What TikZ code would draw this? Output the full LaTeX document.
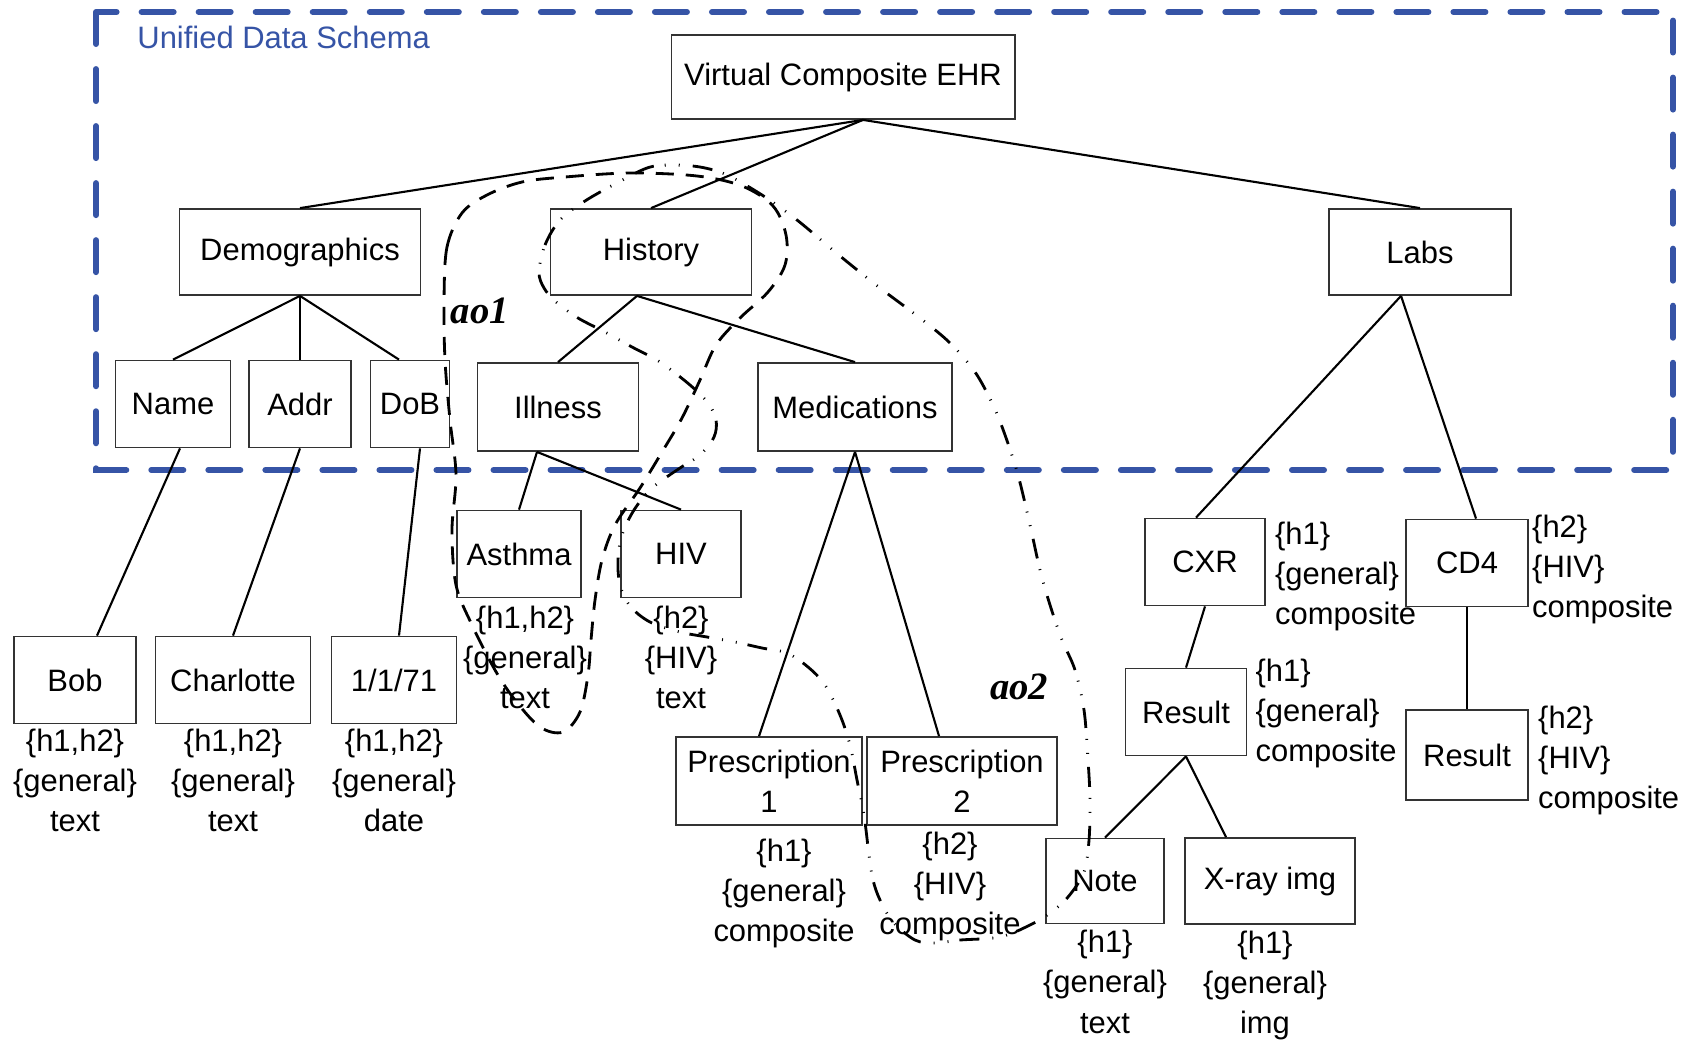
\documentclass[tikz,border=0pt]{standalone}
\usepackage{fontspec}
\setmainfont{Liberation Sans}
\newfontfamily\aofont{Liberation Serif}
\usetikzlibrary{positioning,calc}
\definecolor{schemablue}{RGB}{54,84,166}
\begin{document}
\begin{tikzpicture}[
  x=0.01cm, y=-0.01cm,
  every node/.style={font=\fontsize{8.8}{11.4}\selectfont, align=center},
  box/.style={draw=black!80, line width=0.5pt, minimum height=0.87cm, inner sep=2pt},
  ann/.style={inner sep=1pt},
  link/.style={line width=0.6pt},
  schema/.style={draw=schemablue, line width=1.7pt, line cap=round, dash pattern=on 0.32cm off 0.25cm},
  aoone/.style={line width=0.8pt, dash pattern=on 0.18cm off 0.12cm},
  aotwo/.style={line width=0.8pt, dash pattern=on 0.2cm off 0.11cm on 0.01cm off 0.13cm on 0.01cm off 0.13cm},
  aolabel/.style={font=\aofont\bfseries\itshape\fontsize{11}{13}\selectfont}
]
\useasboundingbox (0,0) rectangle (1692,1039);
\draw[schema] (96,12) rectangle (1673,470);
\node (schemalabel) [anchor=base west, text=schemablue] at (125,48) {Unified Data Schema};

\node (vc) [box, minimum width=3.43cm, minimum height=0.84cm] at (843,77) {Virtual Composite EHR};
\node (demo) [box, minimum width=2.41cm, minimum height=0.86cm] at (300,252) {Demographics};
\node (hist) [box, minimum width=2.01cm, minimum height=0.86cm] at (651,252) {History};
\node (labs) [box, minimum width=1.82cm, minimum height=0.86cm] at (1420,252) {Labs};
\node (name) [box, minimum width=1.15cm] at (173,404) {Name};
\node (addr) [box, minimum width=1.02cm] at (300,404) {Addr};
\node (dob) [box, minimum width=0.79cm] at (410,404) {DoB};
\node (ill) [box, minimum width=1.61cm, minimum height=0.88cm] at (558,407) {Illness};
\node (med) [box, minimum width=1.94cm, minimum height=0.88cm] at (855,407) {Medications};
\node (asth) [box, minimum width=1.24cm] at (519,554) {Asthma};
\node (hiv) [box, minimum width=1.20cm] at (681,554) {HIV};
\node (bob) [box, minimum width=1.22cm] at (75,680) {Bob};
\node (charl) [box, minimum width=1.55cm] at (233,680) {Charlotte};
\node (date) [box, minimum width=1.25cm] at (394,680) {1/1/71};
\node (rxa) [box, minimum width=1.86cm, minimum height=0.88cm] at (769,781) {Prescription\\1};
\node (rxb) [box, minimum width=1.90cm, minimum height=0.88cm] at (962,781) {Prescription\\2};
\node (cxr) [box, minimum width=1.20cm] at (1205,562) {CXR};
\node (cd4) [box, minimum width=1.22cm] at (1467,563) {CD4};
\node (resa) [box, minimum width=1.21cm] at (1186,712) {Result};
\node (resb) [box, minimum width=1.22cm, minimum height=0.90cm] at (1467,755) {Result};
\node (note) [box, minimum width=1.18cm, minimum height=0.85cm] at (1105,881) {Note};
\node (xray) [box, minimum width=1.70cm, minimum height=0.86cm] at (1270,881) {X-ray img};

\node (bobann) [ann, below=0pt of bob] {\{h1,h2\}\\\{general\}\\text};
\node (charlann) [ann, below=0pt of charl] {\{h1,h2\}\\\{general\}\\text};
\node (dateann) [ann, below=0pt of date] {\{h1,h2\}\\\{general\}\\date};
\node (asthann) [ann, below=1pt of asth, xshift=0.06cm] {\{h1,h2\}\\\{general\}\\text};
\node (hivann) [ann, below=1pt of hiv] {\{h2\}\\\{HIV\}\\text};
\node (rxaann) [ann, below=2.5pt of rxa, xshift=0.15cm] {\{h1\}\\\{general\}\\composite};
\node (rxbann) [ann, below=0.5pt of rxb, xshift=-0.12cm] {\{h2\}\\\{HIV\}\\composite};
\node (noteann) [ann, below=0.5pt of note] {\{h1\}\\\{general\}\\text};
\node (xrayann) [ann, below=0.5pt of xray, xshift=-0.05cm] {\{h1\}\\\{general\}\\img};
\node (cxrann) [ann, anchor=north west, align=left] at ($(cxr.north east)+(5,0)$) {\{h1\}\\\{general\}\\composite};
\node (cd4ann) [ann, anchor=north west, align=left] at ($(cd4.north east)+(-1,-8)$) {\{h2\}\\\{HIV\}\\composite};
\node (resaann) [ann, anchor=north west, align=left] at ($(resa.north east)+(4,-13)$) {\{h1\}\\\{general\}\\composite};
\node (resbann) [ann, anchor=north west, align=left] at ($(resb.north east)+(5,-7)$) {\{h2\}\\\{HIV\}\\composite};

\draw[link] ($(vc.south)+(20,0)$) -- (demo.north);
\draw[link] ($(vc.south)+(20,0)$) -- (hist.north);
\draw[link] ($(vc.south)+(20,0)$) -- (labs.north);
\draw[link] (demo.south) -- (name.north);
\draw[link] (demo.south) -- (addr.north);
\draw[link] (demo.south) -- ($(dob.north)+(-11,0)$);
\draw[link] ($(hist.south)+(-14,0)$) -- (ill.north);
\draw[link] ($(hist.south)+(-14,0)$) -- (med.north);
\draw[link] ($(labs.south)+(-19,0)$) -- ($(cxr.north)+(-9,0)$);
\draw[link] ($(labs.south)+(-19,0)$) -- ($(cd4.north)+(9,0)$);
\draw[link] ($(name.south)+(7,0)$) -- ($(bob.north)+(22,0)$);
\draw[link] (addr.south) -- (charl.north);
\draw[link] ($(dob.south)+(10,0)$) -- ($(date.north)+(5,0)$);
\draw[link] ($(ill.south)+(-21,0)$) -- (asth.north);
\draw[link] ($(ill.south)+(-21,0)$) -- (hiv.north);
\draw[link] (med.south) -- ($(rxa.north)+(-10,0)$);
\draw[link] (med.south) -- ($(rxb.north)+(-23,0)$);
\draw[link] (cxr.south) -- (resa.north);
\draw[link] (resa.south) -- (note.north);
\draw[link] (resa.south) -- ($(xray.north)+(-44,0)$);
\draw[link] (cd4.south) -- (resb.north);

\draw[aoone] plot[smooth cycle, tension=0.55] coordinates {(444,300) (447,247) (462,213) (487,195) (522,182) (565,177) (630,173) (697,176) (742,186) (773,206) (786,235) (785,265) (768,292) (740,318) (716,345) (700,380) (682,418) (662,452) (640,488) (615,525) (602,560) (595,600) (591,640) (588,675) (580,712) (563,732) (540,727) (515,700) (495,670) (472,625) (456,585) (452,530) (456,475) (450,420) (445,360)};
\draw[aotwo] plot[smooth cycle, tension=0.55] coordinates {(539,272) (545,245) (560,220) (585,201) (615,184) (647,168) (670,165) (700,167) (727,175) (762,195) (797,220) (840,256) (880,288) (920,318) (950,343) (975,372) (993,405) (1005,435) (1018,475) (1030,525) (1040,570) (1050,605) (1062,640) (1075,670) (1084,710) (1088,760) (1090,800) (1089,840) (1084,872) (1068,897) (1050,913) (1030,925) (1000,937) (960,940) (935,943) (915,940) (893,922) (880,900) (873,880) (869,855) (864,815) (857,780) (850,745) (840,715) (825,685) (808,667) (787,653) (762,648) (735,642) (707,637) (680,632) (650,622) (630,606) (620,585) (618,560) (622,535) (634,510) (652,488) (680,468) (700,455) (714,437) (716,420) (708,403) (690,385) (660,362) (632,347) (605,332) (578,318) (556,302) (544,288)};
\node (aoonelabel) [aolabel] at (480,311) {ao1};
\node (aotwolabel) [aolabel] at (1019,687) {ao2};
\end{tikzpicture}
\end{document}
